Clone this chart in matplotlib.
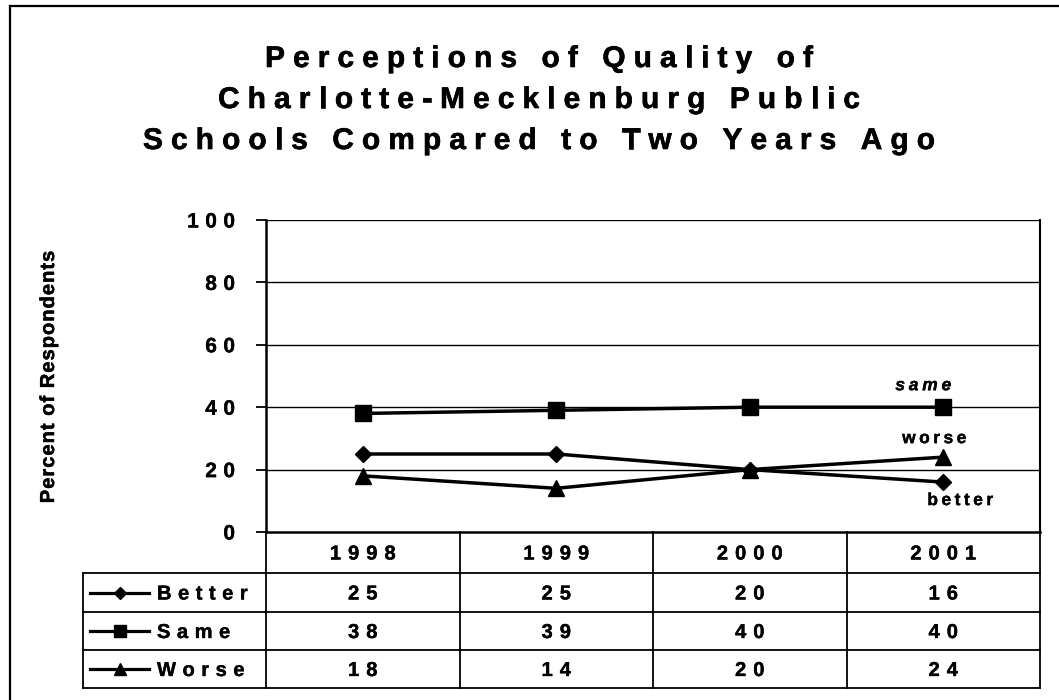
import matplotlib
matplotlib.use("Agg")
import matplotlib.pyplot as plt
import matplotlib.patheffects as pe
from matplotlib.font_manager import FontProperties, findfont, get_font

# ── data ─────────────────────────────────────────────
years = ["1998", "1999", "2000", "2001"]
series_names = ["Better", "Same", "Worse"]
better = [25, 25, 20, 16]
same = [38, 39, 40, 40]
worse = [18, 14, 20, 24]
y_ticks = [0, 20, 40, 60, 80, 100]
title_lines = ["Perceptions of Quality of",
               "Charlotte-Mecklenburg Public",
               "Schools Compared to Two Years Ago"]

FONT = "Liberation Sans"
W, H, DPI = 1059, 700, 100

# layout in pixels (from top-left)
PLOT_L, PLOT_R, PLOT_T, PLOT_B = 266, 1040, 220, 532
ROW_Y = [532, 573, 612, 650, 688]   # header top, row tops..., table bottom
TABLE_L = 83

fig = plt.figure(figsize=(W / DPI, H / DPI), dpi=DPI)
fig.patch.set_facecolor("white")

# full-figure canvas in pixel units for borders, table and text
canvas = fig.add_axes([0, 0, 1, 1], zorder=0)
canvas.set_xlim(0, W)
canvas.set_ylim(H, 0)
canvas.axis("off")

ax = fig.add_axes([PLOT_L / W, 1 - PLOT_B / H,
                   (PLOT_R - PLOT_L) / W, (PLOT_B - PLOT_T) / H], zorder=2)
ax.patch.set_alpha(0)


def tracked(x, y, s, size, track, ha="center", rotation=0,
            weight="bold", style="normal", stroke=0.25):
    """letter-spaced text, drawn char by char in canvas pixels"""
    prop = FontProperties(family=FONT, size=size, weight=weight, style=style)
    font = get_font(findfont(prop))
    font.set_size(size, DPI)
    adv = [font.load_char(ord(c)).linearHoriAdvance / 65536 for c in s]
    total = sum(adv) + track * (len(s) - 1)
    pos = -{"left": 0, "center": total / 2, "right": total}[ha]
    effects = [pe.withStroke(linewidth=stroke, foreground="black")]
    for c, a in zip(s, adv):
        if rotation == 0:
            xy = (x + pos, y)
        else:
            xy = (x, y - pos)
        canvas.text(*xy, c, fontproperties=prop, rotation=rotation,
                    rotation_mode="anchor", ha="left", va="baseline",
                    color="black", zorder=5, path_effects=effects)
        pos += a + track


def to_canvas(x, y):
    return canvas.transData.inverted().transform(ax.transData.transform((x, y)))


# ── plot ─────────────────────────────────────────────
xs = list(range(len(years)))
styles = {"Better": ("D", 8), "Same": ("s", 11), "Worse": ("^", 11)}
values = {"Better": better, "Same": same, "Worse": worse}
for name in series_names:
    m, ms = styles[name]
    ax.plot(xs, values[name], color="black", lw=2.5, marker=m, ms=ms,
            mfc="black", mec="black", zorder=4, clip_on=False)

ax.set_xlim(-0.5, len(years) - 0.5)
ax.set_ylim(0, 100)
ax.set_yticks(y_ticks)
ax.set_yticklabels([])
ax.set_xticks([])
ax.tick_params(axis="y", direction="out", length=7, width=1.3, color="black")
for v in y_ticks[1:]:
    ax.axhline(v, color="black", lw=1.0, zorder=1)
for side in ["top", "bottom"]:
    ax.spines[side].set_visible(False)
ax.spines["left"].set_linewidth(1.8)
ax.spines["right"].set_linewidth(1.5)
ax.axhline(0, color="black", lw=1.8, zorder=3, clip_on=False)

# y tick labels
for v in y_ticks:
    cx, cy = to_canvas(-0.5, v)
    tracked(235, cy + 7.5, str(v), 15, 6.5, ha="right")

# y label
tracked(54, 377, "Percent of Respondents", 14.5, 1.0, rotation=90, stroke=0.35)

# end-of-line labels
lx, ly = to_canvas(xs[-1], same[-1])
tracked(lx - 20, ly - 17, "same", 12.5, 3.8, style="italic")
lx, ly = to_canvas(xs[-1], worse[-1])
tracked(lx - 9, ly - 14, "worse", 12.5, 3.5)
lx, ly = to_canvas(xs[-1], better[-1])
tracked(lx + 17, ly + 23, "better", 12.5, 3.5)

# ── data table ───────────────────────────────────────
col_w = (PLOT_R - PLOT_L) / len(years)
edges = [PLOT_L + i * col_w for i in range(len(years) + 1)]
lw_t = 1.3
for x in edges:
    canvas.plot([x, x], [ROW_Y[0], ROW_Y[-1]], color="black", lw=lw_t, zorder=3)
canvas.plot([TABLE_L, TABLE_L], [ROW_Y[1], ROW_Y[-1]], color="black", lw=lw_t, zorder=3)
for y in ROW_Y[1:]:
    canvas.plot([TABLE_L, PLOT_R], [y, y], color="black", lw=lw_t, zorder=3)

centers = [(edges[i] + edges[i + 1]) / 2 for i in range(len(years))]
hdr_c = (ROW_Y[0] + ROW_Y[1]) / 2
for cx, yr in zip(centers, years):
    tracked(cx, hdr_c + 7, yr, 14.5, 7)

for r, name in enumerate(series_names):
    yc = (ROW_Y[r + 1] + ROW_Y[r + 2]) / 2
    m, ms = styles[name]
    canvas.plot([90, 149], [yc, yc], color="black", lw=2.3, zorder=4)
    canvas.plot([120], [yc], marker=m, ms=ms * 0.75, color="black", zorder=4)
    tracked(157, yc + 7, name, 14.5, 6.5, ha="left")
    for cx, v in zip(centers, values[name]):
        tracked(cx, yc + 7, str(v), 14.5, 7)

# ── title ────────────────────────────────────────────
for i, line in enumerate(title_lines):
    tracked(539, 67 + i * 41, line, 21.5, 8.1, stroke=0.45)

# outer frame
canvas.plot([10, W], [6, 6], color="black", lw=1.6, zorder=3)
canvas.plot([10, 10], [6, H], color="black", lw=1.6, zorder=3)

fig.savefig("out.png", dpi=DPI)
